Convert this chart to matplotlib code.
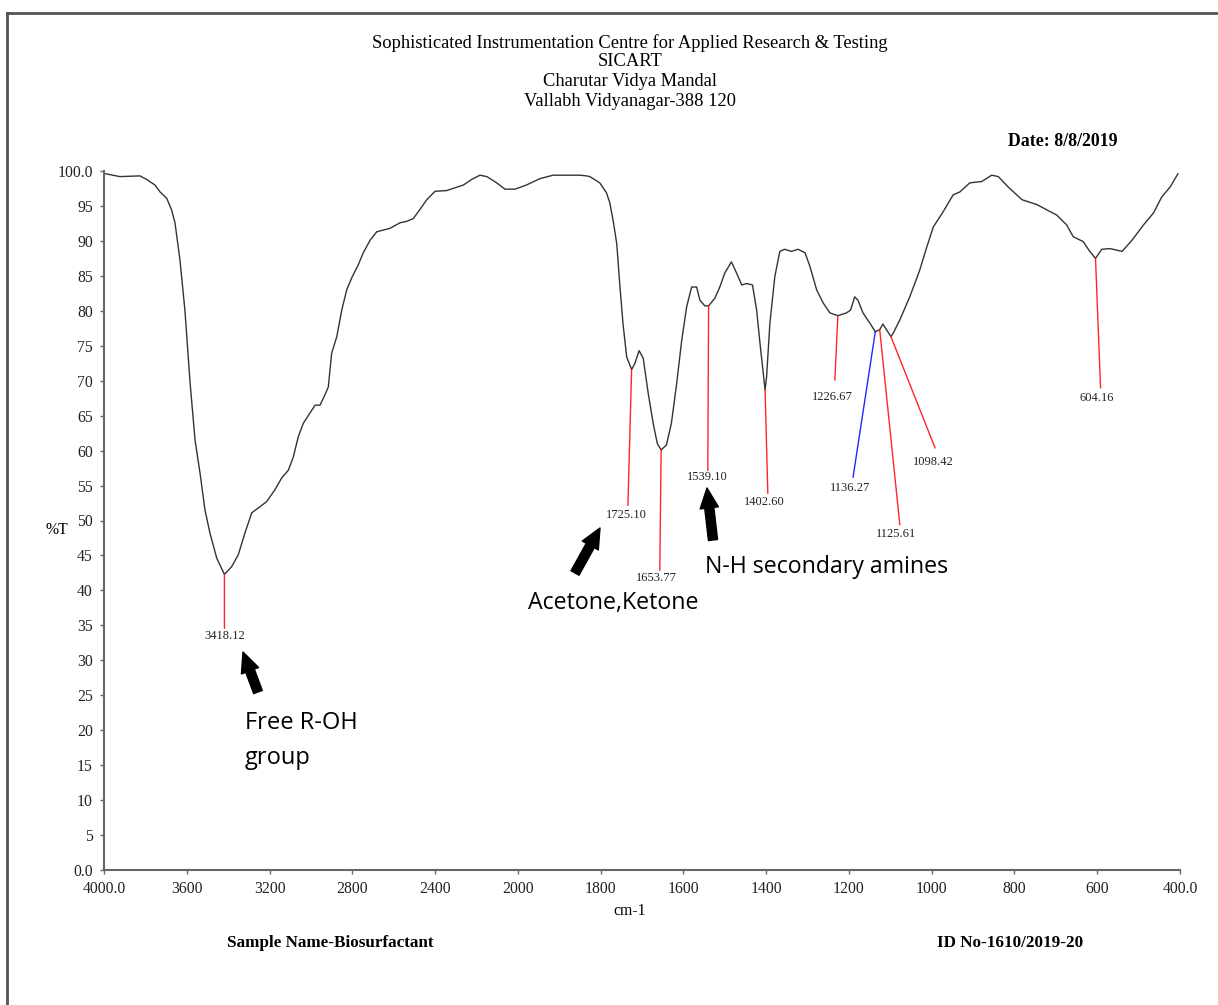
import numpy as np
import matplotlib
matplotlib.use("Agg")
import matplotlib.pyplot as plt
from matplotlib.lines import Line2D

# Spectre FTIR
wavenumber = [3992, 3923, 3826, 3794, 3754, 3729, 3697, 3673, 3657, 3633,
              3609, 3584, 3560, 3536, 3512, 3488, 3455, 3418.12, 3383, 3351,
              3319, 3286, 3254, 3214, 3174, 3141, 3109, 3085, 3061, 3037,
              3004, 2980, 2956, 2932, 2916, 2900, 2875, 2851, 2827, 2803,
              2771, 2747, 2714, 2682, 2618, 2569, 2537, 2505, 2473, 2440,
              2400, 2344, 2263, 2223, 2183, 2150, 2102, 2062, 2014,
              1979, 1947, 1915, 1899, 1850, 1834, 1826, 1802, 1786, 1778,
              1770, 1761, 1754, 1746, 1737, 1725.10, 1717, 1707, 1697, 1685,
              1673, 1663, 1653.77, 1641, 1629, 1616, 1604, 1592, 1580, 1568,
              1560, 1548, 1539.10, 1524, 1512, 1500, 1484, 1473, 1459, 1447,
              1433, 1423, 1415, 1402.60, 1399, 1391, 1379, 1367, 1355, 1339,
              1323, 1306, 1294, 1278, 1262, 1246, 1226.67, 1206, 1196, 1186,
              1178, 1166, 1149, 1136.27, 1125.61, 1118, 1098.42, 1093, 1077, 1053,
              1029, 1012, 996, 972, 948, 932, 908, 879, 855, 839,
              815, 782, 746, 698, 674, 658, 634, 618, 604.16, 589,
              569, 540, 516, 488, 464, 444, 424, 405]
transmittance = [99.6, 99.2, 99.3, 98.8, 98.0, 97.0, 96.1, 94.4, 92.6, 87.3,
                 80.1, 69.7, 61.5, 56.8, 51.5, 48.2, 44.6, 42.3, 43.4, 45.1,
                 48.2, 51.1, 51.8, 52.7, 54.4, 56.1, 57.2, 59.1, 62.0, 63.9,
                 65.4, 66.5, 66.5, 68.0, 69.1, 73.9, 76.3, 80.1, 83.0, 84.7,
                 86.6, 88.3, 90.1, 91.3, 91.8, 92.6, 92.8, 93.2, 94.5, 95.9,
                 97.1, 97.2, 98.0, 98.8, 99.4, 99.2, 98.3, 97.4, 97.4,
                 98.0, 98.9, 99.4, 99.4, 99.4, 99.3, 99.2, 98.3, 96.9, 95.5,
                 93.0, 89.6, 84.0, 78.2, 73.4, 71.6, 72.5, 74.3, 73.2, 68.2,
                 63.9, 61.0, 60.1, 60.8, 63.9, 69.7, 75.8, 80.6, 83.4, 83.4,
                 81.5, 80.7, 80.7, 81.8, 83.4, 85.4, 87.0, 85.6, 83.7, 83.9,
                 83.7, 80.1, 75.4, 68.7, 70.5, 78.2, 84.9, 88.5, 88.8, 88.5,
                 88.8, 88.3, 86.3, 83.0, 81.1, 79.7, 79.3, 79.7, 80.1, 82.0,
                 81.5, 79.7, 78.2, 77.0, 77.3, 78.1, 76.3, 76.8, 78.7, 82.0,
                 85.8, 89.1, 92.0, 94.2, 96.6, 97.0, 98.3, 98.5, 99.4, 99.2,
                 97.7, 95.9, 95.2, 93.7, 92.3, 90.6, 89.9, 88.5, 87.5, 88.8,
                 88.9, 88.5, 90.1, 92.3, 94.0, 96.3, 97.7, 99.6]

# Pics annotes
peak_labels = ["3418.12", "1725.10", "1653.77", "1539.10", "1402.60",
               "1226.67", "1136.27", "1125.61", "1098.42", "604.16"]
peak_wn = [3418.12, 1725.10, 1653.77, 1539.10, 1402.60,
           1226.67, 1136.27, 1125.61, 1098.42, 604.16]
peak_t = [42.3, 71.6, 60.1, 80.7, 68.7, 79.3, 77.0, 77.3, 76.3, 87.5]
# bout du trait / position du texte (wn, %T)
label_wn = [3418, 1734, 1657, 1541, 1396, 1234, 1190, 1077, 992, 592]
label_t = [34.6, 52.2, 42.9, 57.2, 53.9, 70.1, 56.2, 49.4, 60.4, 69.0]
text_wn = [3418, 1737, 1664, 1542, 1405, 1239, 1196, 1085, 997, 600]
text_t = [34.3, 51.6, 42.6, 57.1, 53.5, 68.5, 55.5, 48.9, 59.2, 68.4]
line_col = ["red"] * 6 + ["blue"] + ["red"] * 3

xticks = [4000, 3600, 3200, 2800, 2400, 2000, 1800, 1600, 1400, 1200, 1000, 800, 600, 400]
xtick_labels = ["4000.0", "3600", "3200", "2800", "2400", "2000", "1800", "1600",
                "1400", "1200", "1000", "800", "600", "400.0"]
yticks = list(range(0, 101, 5))
ytick_labels = ["0.0"] + [str(v) for v in yticks[1:-1]] + ["100.0"]


# echelle x : 400 cm-1 par graduation au-dessus de 2000, 200 en dessous
def fwd(w):
    w = np.asarray(w, dtype=float)
    return np.where(w >= 2000, (w - 4000) / 400, -5 - (2000 - w) / 200)


def inv(p):
    p = np.asarray(p, dtype=float)
    return np.where(p >= -5, 4000 + 400 * p, 2000 + 200 * (p + 5))


W, H = 1218, 1005
fig = plt.figure(figsize=(W / 100, H / 100), dpi=100)


def px(x, y):
    return (x / W, 1 - y / H)


serif = "Liberation Serif"
sans = "Open Sans"

ax = fig.add_axes([104 / W, 1 - 870 / H, (1180 - 104) / W, (870 - 171) / H])
ax.set_xscale("function", functions=(fwd, inv))
ax.set_xlim(4000, 400)
ax.set_ylim(0, 100)

ax.plot(wavenumber, transmittance, color="#333333", lw=1.0, clip_on=False)

for i in range(len(peak_wn)):
    ax.plot([peak_wn[i], label_wn[i]], [peak_t[i], label_t[i]],
            color=line_col[i], lw=1.0, alpha=0.85)
    ax.text(text_wn[i], text_t[i], peak_labels[i], ha="center", va="top",
            fontsize=9, family=serif, color="#222222")

for s in ["top", "right"]:
    ax.spines[s].set_visible(False)
for s in ["left", "bottom"]:
    ax.spines[s].set_color("#666666")
    ax.spines[s].set_linewidth(1.5)

ax.set_xticks(xticks)
ax.set_xticklabels(xtick_labels)
ax.set_yticks(yticks)
ax.set_yticklabels(ytick_labels)
ax.minorticks_off()
ax.tick_params(direction="out", length=3, width=1, color="#666666",
               labelsize=11.3, pad=5)
for lab in ax.get_xticklabels() + ax.get_yticklabels():
    lab.set_family(serif)
    lab.set_color("#222222")

# en-tete
title_lines = ["Sophisticated Instrumentation Centre for Applied Research & Testing",
               "SICART", "Charutar Vidya Mandal", "Vallabh Vidyanagar-388 120"]
title_y = [43, 61, 82, 101]
for t, y in zip(title_lines, title_y):
    fig.text(*px(630, y), t, ha="center", va="center", fontsize=13.3, family=serif)

fig.text(*px(1118, 142), "Date: 8/8/2019", ha="right", va="center",
         fontsize=12.8, family=serif, fontweight="bold")
fig.text(*px(57, 530), "%T", ha="center", va="center", fontsize=11.3, family=serif)
fig.text(*px(630, 911), "cm-1", ha="center", va="center", fontsize=11.3, family=serif)
fig.text(*px(227, 943), "Sample Name-Biosurfactant", ha="left", va="center",
         fontsize=12.3, family=serif, fontweight="bold")
fig.text(*px(937, 943), "ID No-1610/2019-20", ha="left", va="center",
         fontsize=12.3, family=serif, fontweight="bold")

# annotations ajoutees
fig.text(*px(245, 723), "Free R-OH", ha="left", va="center", fontsize=17, family=sans)
fig.text(*px(245, 758), "group", ha="left", va="center", fontsize=17, family=sans)
fig.text(*px(528, 603), "Acetone,Ketone", ha="left", va="center", fontsize=16.7, family=sans)
fig.text(*px(705, 567), "N-H secondary amines", ha="left", va="center", fontsize=16.7, family=sans)

arrows = [((243, 652), (258, 692)), ((600, 528), (575, 573)), ((707, 488), (713, 540))]
for tip, tail in arrows:
    fig.add_artist(matplotlib.patches.FancyArrowPatch(
        px(*tail), px(*tip), transform=fig.transFigure,
        arrowstyle="simple,head_length=1.2,head_width=1.1,tail_width=0.55",
        mutation_scale=12, color="black", shrinkA=0, shrinkB=0))

# cadre
fig.add_artist(Line2D([7 / W, 1], [1 - 13 / H, 1 - 13 / H], color="#555555", lw=2))
fig.add_artist(Line2D([7 / W, 7 / W], [0, 1 - 13 / H], color="#555555", lw=2))

fig.savefig("out.png", dpi=100)
